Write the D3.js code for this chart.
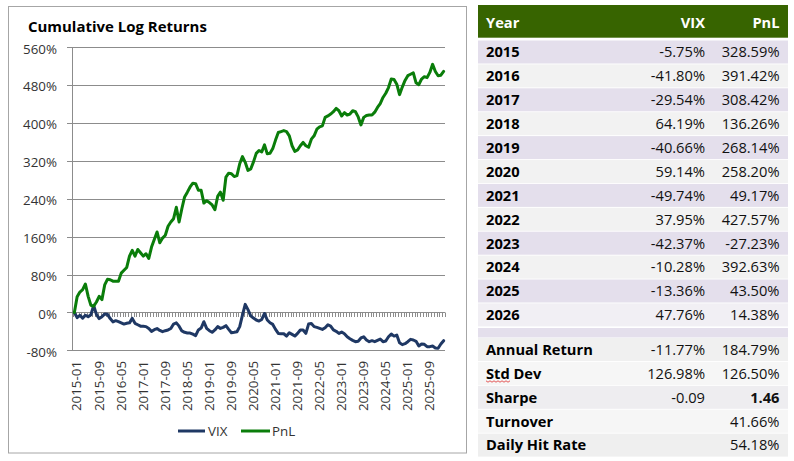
<!DOCTYPE html>
<html><head><meta charset="utf-8">
<script src="https://cdn.jsdelivr.net/npm/d3@7/dist/d3.min.js"></script>
<style>
html,body{margin:0;padding:0;background:#fff;}
svg{display:block;font-family:"Open Sans",sans-serif;}
</style></head><body>
<svg id="c" width="794" height="461"></svg>
<script>
const categories = [
"2015-01","2015-02","2015-03","2015-04","2015-05","2015-06","2015-07","2015-08","2015-09","2015-10","2015-11","2015-12",
"2016-01","2016-02","2016-03","2016-04","2016-05","2016-06","2016-07","2016-08","2016-09","2016-10","2016-11","2016-12",
"2017-01","2017-02","2017-03","2017-04","2017-05","2017-06","2017-07","2017-08","2017-09","2017-10","2017-11","2017-12",
"2018-01","2018-02","2018-03","2018-04","2018-05","2018-06","2018-07","2018-08","2018-09","2018-10","2018-11","2018-12",
"2019-01","2019-02","2019-03","2019-04","2019-05","2019-06","2019-07","2019-08","2019-09","2019-10","2019-11","2019-12",
"2020-01","2020-02","2020-03","2020-04","2020-05","2020-06","2020-07","2020-08","2020-09","2020-10","2020-11","2020-12",
"2021-01","2021-02","2021-03","2021-04","2021-05","2021-06","2021-07","2021-08","2021-09","2021-10","2021-11","2021-12",
"2022-01","2022-02","2022-03","2022-04","2022-05","2022-06","2022-07","2022-08","2022-09","2022-10","2022-11","2022-12",
"2023-01","2023-02","2023-03","2023-04","2023-05","2023-06","2023-07","2023-08","2023-09","2023-10","2023-11","2023-12",
"2024-01","2024-02","2024-03","2024-04","2024-05","2024-06","2024-07","2024-08","2024-09","2024-10","2024-11","2024-12",
"2025-01","2025-02","2025-03","2025-04","2025-05","2025-06","2025-07","2025-08","2025-09","2025-10","2025-11","2025-12",
"2026-01","2026-02","2026-03"];

const vix = [
0,-11,-6,-12,-6,-9,-5,15,-4,-13,-9,-3.5,
-4,-13,-20,-17.5,-19.6,-22,-24.6,-23,-22,-12.6,-23,-26,
-29,-29,-30,-34,-40,-36.5,-34,-38,-40.7,-38.6,-37,-34,
-24.6,-22,-29,-39,-42,-43.5,-43.5,-46,-49,-37,-33,-19.6,
-33.7,-38.6,-42,-37,-30,-33.7,-31.6,-28,-35.8,-42.8,-42,-40.7,
-30,-5.6,17,6,-7.1,-12,-16,-18.3,-14.8,-2.2,-16,-21.8,
-25.3,-35.8,-44.3,-45,-45,-49.9,-42.9,-46.4,-49.9,-44.3,-37,-37,
-44.3,-24.6,-23.2,-30,-31.6,-33.7,-35.8,-32.3,-26,-28.8,-37,-39.9,
-44.3,-41.5,-45,-51.4,-55.5,-59,-61.8,-61,-54,-51.4,-58.2,-61.8,
-59.7,-61.8,-59,-56.2,-61.8,-60.4,-51.4,-45.7,-50,-47.8,-64,-68,
-66,-61.8,-56.9,-58.2,-61,-70.9,-66.7,-67.4,-72.3,-72.3,-70.9,-75,
-75.8,-66.7,-59.7];

const pnl = [
0,33,43,48,60,34,15,13,22,34,27,58,
70,69,66,66,66,83,89,95,119,131,119,133,
126,119,124,114,138,154,170,147,157,163,182,191,
198,222,191,219,244,254,265,273,272,258,258,231,
236,232,227,217,245,254,237,286,294,293,287,289,
314,329,317,300,303,318,336,342,339,354,335,336,
346,364,380,382,384,382,373,352,340,343,352,359,
352,349,366,373,387,392,394,412,415,419,424,431,
426,415,422,417,419,426,424,413,396,412,416,417,
417,423,433,441,454,463,475,493,492,482,460,476,
490,500,503,506,485,481,493,498,496,507,524,509,
500,501,509];

const yTicks = [-80,0,80,160,240,320,400,480,560];
const xTickLabels = ["2015-01","2015-09","2016-05","2017-01","2017-09","2018-05","2019-01","2019-09",
"2020-05","2021-01","2021-09","2022-05","2023-01","2023-09","2024-05","2025-01","2025-09"];
const seriesNames = ["VIX","PnL"];

const tableHeader = ["Year","VIX","PnL"];
const tableYears = ["2015","2016","2017","2018","2019","2020","2021","2022","2023","2024","2025","2026"];
const tableVix = ["-5.75%","-41.80%","-29.54%","64.19%","-40.66%","59.14%","-49.74%","37.95%","-42.37%","-10.28%","-13.36%","47.76%"];
const tablePnl = ["328.59%","391.42%","308.42%","136.26%","268.14%","258.20%","49.17%","427.57%","-27.23%","392.63%","43.50%","14.38%"];
const statLabels = ["Annual Return","Std Dev","Sharpe","Turnover","Daily Hit Rate"];
const statVix = ["-11.77%","126.98%","-0.09","",""];
const statPnl = ["184.79%","126.50%","1.46","41.66%","54.18%"];

(function(){
const svg = d3.select("#c");
svg.append("rect").attr("width",794).attr("height",461).attr("fill","#fff");

// ---------- chart ----------
const colors = {VIX:"#1f3864", PnL:"#0a7d0a"};
const gridColor = "#8c8c8c";
const pLeft = 73, pRight = 445, pTop = 47.3, pBottom = 350.3;

svg.append("rect").attr("x",8.5).attr("y",6.5).attr("width",458).attr("height",446.5)
  .attr("fill","none").attr("stroke","#a6a6a6").attr("stroke-width",1);

const title = svg.append("text").attr("x",28).attr("y",31.5)
  .attr("font-weight","bold").attr("font-size",16).attr("fill","#000")
  .text("Cumulative Log Returns");
const tl = title.node().getComputedTextLength();
title.attr("font-size", 16*179/tl);

const x = d3.scaleBand().domain(categories).range([pLeft,pRight]).padding(0);
const bw = x.bandwidth();
const y = d3.scaleLinear().domain([-80,560]).range([pBottom,pTop]);

// gridlines
svg.append("g").selectAll("line").data(yTicks).join("line")
  .attr("x1",pLeft-6).attr("x2",pRight)
  .attr("y1",d=>Math.round(y(d))+0.5).attr("y2",d=>Math.round(y(d))+0.5)
  .attr("stroke",gridColor).attr("stroke-width",1);

// y axis labels
const yAxis = d3.axisLeft(y).tickValues(yTicks).tickSize(0).tickPadding(0).tickFormat(d=>d+"%");
const gy = svg.append("g").attr("transform",`translate(57,0)`).call(yAxis);
gy.select(".domain").remove();
gy.selectAll("text").attr("font-family","Open Sans").attr("font-size",13.33).attr("fill","#333")
  .attr("dy","0.36em").attr("y",1);

// left axis line
svg.append("line").attr("x1",pLeft-0.5).attr("x2",pLeft-0.5).attr("y1",Math.round(y(560))).attr("y2",Math.round(y(-80))+1)
  .attr("stroke",gridColor).attr("stroke-width",1);

// category tick marks on zero line
const y0 = Math.round(y(0))+0.5;
svg.append("g").selectAll("line").data(categories.concat(["__end"])).join("line")
  .attr("x1",(d,i)=>Math.round(i<categories.length? x(d): pRight)+0.5)
  .attr("x2",(d,i)=>Math.round(i<categories.length? x(d): pRight)+0.5)
  .attr("y1",y0).attr("y2",y0+4.5)
  .attr("stroke",gridColor).attr("stroke-width",1);

// x axis labels (below plot)
const xAxis = d3.axisBottom(x).tickValues(xTickLabels).tickSize(0);
const gx = svg.append("g").attr("transform",`translate(0,${pBottom})`).call(xAxis);
gx.select(".domain").remove();
gx.selectAll("text").attr("font-family","Open Sans").attr("font-size",13.33).attr("fill","#333")
  .attr("text-anchor","end").attr("x",0).attr("y",0).attr("dy","0.36em")
  .attr("transform",`translate(2.3,${361-pBottom}) rotate(-90)`);

// lines
const line = d3.line().x((d,i)=>x(categories[i])+bw/2).y(d=>y(d)).curve(d3.curveLinear);
const series = [{name:"VIX",values:vix},{name:"PnL",values:pnl}];
svg.append("g").selectAll("path").data(series).join("path")
  .attr("d",d=>line(d.values)).attr("fill","none")
  .attr("stroke",d=>colors[d.name]).attr("stroke-width",3)
  .attr("stroke-linejoin","round").attr("stroke-linecap","round");

// legend
const legendPos = [{x1:178,x2:205,tx:208},{x1:241,x2:270,tx:272}];
const lg = svg.append("g").selectAll("g").data(seriesNames).join("g");
lg.append("line").attr("x1",(d,i)=>legendPos[i].x1).attr("x2",(d,i)=>legendPos[i].x2)
  .attr("y1",431).attr("y2",431).attr("stroke",d=>colors[d]).attr("stroke-width",3);
lg.append("text").attr("x",(d,i)=>legendPos[i].tx).attr("y",431).attr("dy","0.36em")
  .attr("font-size",13.33).attr("fill","#333").text(d=>d);

// ---------- table ----------
const tX0 = 478, tX1 = 788, colYear = 486, colVix = 705, colPnl = 779.5;
const fs = 14.67;
const tg = svg.append("g");
tg.append("rect").attr("x",tX0).attr("y",5).attr("width",tX1-tX0).attr("height",32.7).attr("fill","#376400");
const hdrX = [colYear,colVix,colPnl], hdrAnchor=["start","end","end"];
tg.selectAll("text.h").data(tableHeader).join("text").attr("class","h")
  .attr("x",(d,i)=>hdrX[i]).attr("y",28.3).attr("text-anchor",(d,i)=>hdrAnchor[i])
  .attr("font-weight","bold").attr("font-size",fs).attr("fill","#fff").text(d=>d);

const pitch = 23.9;
const yearRowColors = ["#e4dfec","#f2f2f2"];
const rows = tableYears.map((yr,k)=>({label:yr,v:tableVix[k],p:tablePnl[k],rTop:40.5+pitch*k,
  fill: k===11? "#f1eff4" : yearRowColors[k%2], pb:false}));
const statFills = ["#f0f0f0","#f6f6f6","#eeedf0","#f6f6f6","#efefef"];
statLabels.forEach((s,j)=>rows.push({label:s,v:statVix[j],p:statPnl[j],rTop:338+pitch*j,fill:statFills[j],pb:s==="Sharpe"}));

tg.append("rect").attr("x",tX0).attr("y",328).attr("width",tX1-tX0).attr("height",9.5).attr("fill","#e4dfec");

const rg = tg.selectAll("g.r").data(rows).join("g").attr("class","r");
rg.append("rect").attr("x",tX0).attr("y",d=>d.rTop).attr("width",tX1-tX0).attr("height",pitch-0.9).attr("fill",d=>d.fill);
rg.append("text").attr("x",colYear).attr("y",d=>d.rTop+16.8).attr("font-weight","bold").attr("font-size",fs)
  .attr("fill","#000").text(d=>d.label);
rg.append("text").attr("x",colVix).attr("y",d=>d.rTop+16.8).attr("text-anchor","end").attr("font-size",fs)
  .attr("fill","#111").text(d=>d.v);
rg.append("text").attr("x",colPnl).attr("y",d=>d.rTop+16.8).attr("text-anchor","end").attr("font-size",fs)
  .attr("font-weight",d=>d.pb?"bold":"normal").attr("fill","#111").text(d=>d.p);

// spell-check squiggle under "Std"
const sq = [];
for (let xx=486, k=0; xx<=511; xx+=2, k++) sq.push([xx, 381 + (k%2?1.2:-0.2)]);
tg.append("path").attr("d",d3.line()(sq)).attr("fill","none").attr("stroke","#e03030").attr("stroke-width",0.8);
})();
</script>
</body></html>
